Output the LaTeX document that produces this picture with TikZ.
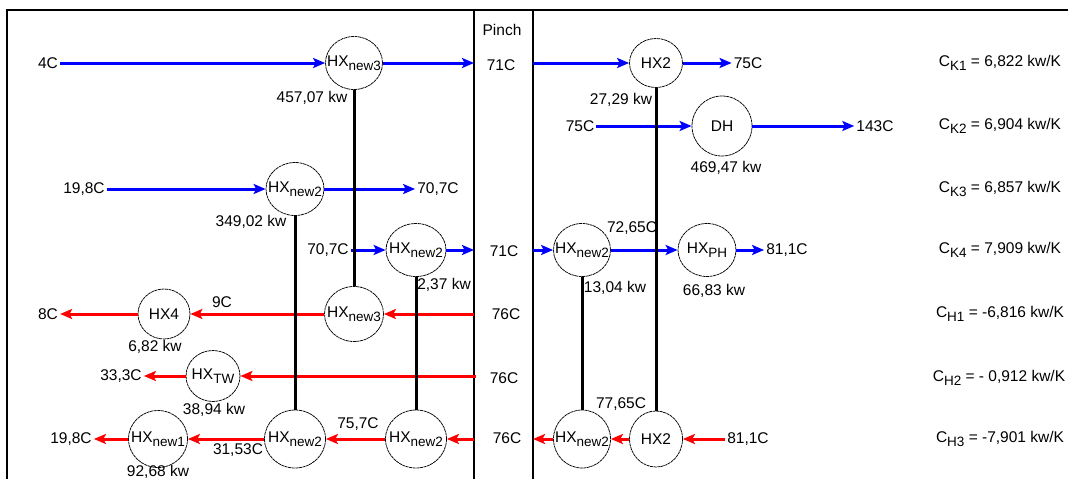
\documentclass[tikz,border=0pt]{standalone}
\usepackage{fontspec}
\setmainfont{Liberation Sans}
\usetikzlibrary{arrows.meta,shapes.geometric}
\newcommand\subx[1]{\raisebox{-3.5pt}{\fontsize{13.5}{13.5}\selectfont #1}}
\newcommand\hxt[1]{\makebox[0pt]{#1}}
\tikzset{
  hx/.style={ellipse,draw=black,line width=0.75pt,dash pattern=on 3pt off 0.6pt,inner sep=0pt,minimum width=57pt,minimum height=53pt},
  lbl/.style={inner sep=2pt},
  barrow/.style={draw=blue,line width=3pt,-{Stealth[length=12pt,width=10pt,inset=2.5pt]}},
  rarrow/.style={draw=red,line width=3pt,-{Stealth[length=12pt,width=10pt,inset=2.5pt]}},
  link/.style={draw=black,line width=3pt},
}
\begin{document}
\begin{tikzpicture}[x=1pt,y=-1pt,font=\fontsize{15.5}{18}\selectfont]
\useasboundingbox (0,0) rectangle (1068,479);
% frame and pinch
\draw[line width=1.5pt] (7,482) -- (7,10) -- (1070,10);
\draw[line width=2.5pt] (474,10) -- (474,482);
\draw[line width=2.5pt] (533,10) -- (533,482);
\node[lbl] (pinch) at (502,30) {Pinch};
% pinch coordinates
\coordinate (pL1) at (474,63);
\coordinate (pR1) at (533,63);
\coordinate (pL4) at (474,250);
\coordinate (pR4) at (533,250);
\coordinate (pL5) at (474,314);
\coordinate (pL6) at (476,376);
\coordinate (pL7) at (474,439);
\coordinate (pR7) at (533,439);
% exchangers
\node[hx] (a1) at (354,63) {\hxt{HX\subx{new3}}};
\node[hx,minimum width=53pt,minimum height=49pt] (hx2a) at (656,63) {\hxt{HX2}};
\node[hx,minimum width=60pt,minimum height=60pt] (dh) at (722,126) {\hxt{DH}};
\node[hx,minimum width=58pt] (b1) at (295,189) {\hxt{HX\subx{new2}}};
\node[hx,minimum width=60pt] (c1) at (416,250) {\hxt{HX\subx{new2}}};
\node[hx] (d1) at (582,250) {\hxt{HX\subx{new2}}};
\node[hx,minimum width=58pt] (ph) at (707,250) {\hxt{HX\subx{PH}}};
\node[hx,minimum width=52pt,minimum height=50pt] (hx4) at (164,314) {\hxt{HX4}};
\node[hx,minimum width=59pt,minimum height=55pt] (a2) at (354,314) {\hxt{HX\subx{new3}}};
\node[hx,minimum width=54pt,minimum height=51pt] (tw) at (213,376) {\hxt{HX\subx{TW}}};
\node[hx,minimum width=59pt,minimum height=57pt] (n1) at (158,439) {\hxt{HX\subx{new1}}};
\node[hx,minimum width=61pt,minimum height=58pt] (b2) at (295,439) {\hxt{HX\subx{new2}}};
\node[hx,minimum width=61pt,minimum height=58pt] (c2) at (416,439) {\hxt{HX\subx{new2}}};
\node[hx,minimum width=57pt,minimum height=58pt] (d2) at (582,439) {\hxt{HX\subx{new2}}};
\node[hx,minimum width=53pt,minimum height=56pt] (hx2b) at (656,439) {\hxt{HX2}};
% labels
\node[lbl] (t4C) at (48,63) {4C};
\node[lbl] (t71a) at (501,65) {71C};
\node[lbl] (t75a) at (748,63) {75C};
\node[lbl] (w457) at (312,98) {457,07 kw};
\node[lbl] (w2729) at (621,100) {27,29 kw};
\node[lbl] (t75b) at (580,126) {75C};
\node[lbl] (t143) at (875,126) {143C};
\node[lbl] (w469) at (726,168) {469,47 kw};
\node[lbl] (t198a) at (84,189) {19,8C};
\node[lbl] (t707a) at (438,189) {70,7C};
\node[lbl] (w349) at (251,222) {349,02 kw};
\node[lbl] (t707b) at (328,250) {70,7C};
\node[lbl] (t71b) at (504,251) {71C};
\node[lbl] (t7265) at (632,228) {72,65C};
\node[lbl] (t811a) at (787,250) {81,1C};
\node[lbl] (w237) at (444,285) {2,37 kw};
\node[lbl] (w1304) at (615,288) {13,04 kw};
\node[lbl] (w6683) at (714,291) {66,83 kw};
\node[lbl] (t8C) at (48,314) {8C};
\node[lbl] (t9C) at (222,302) {9C};
\node[lbl] (t76a) at (506,314) {76C};
\node[lbl] (w682) at (155,347) {6,82 kw};
\node[lbl] (t333) at (121,376) {33,3C};
\node[lbl] (t76b) at (504,378) {76C};
\node[lbl] (w3894) at (214,410) {38,94 kw};
\node[lbl] (t198b) at (71,439) {19,8C};
\node[lbl] (t757) at (358,424) {75,7C};
\node[lbl] (t3153) at (238,450) {31,53C};
\node[lbl] (w9268) at (158,472) {92,68 kw};
\node[lbl] (t76c) at (507,438) {76C};
\node[lbl] (t7765) at (621,404) {77,65C};
\node[lbl] (t811b) at (748,439) {81,1C};
% heat capacity flow rates
\node[lbl] (ck1) at (1000,63) {C\subx{K1} = 6,822 kw/K};
\node[lbl] (ck2) at (1000,126) {C\subx{K2} = 6,904 kw/K};
\node[lbl] (ck3) at (1000,189) {C\subx{K3} = 6,857 kw/K};
\node[lbl] (ck4) at (1000,250) {C\subx{K4} = 7,909 kw/K};
\node[lbl] (ch1) at (1000,314) {C\subx{H1} = -6,816 kw/K};
\node[lbl] (ch2) at (999,378) {C\subx{H2} = - 0,912 kw/K};
\node[lbl] (ch3) at (1000,439) {C\subx{H3} = -7,901 kw/K};
% cold streams (blue)
\draw[barrow] (t4C.east) -- (a1.west);
\draw[barrow] (a1.east) -- (pL1);
\draw[barrow] (pR1) -- (hx2a.west);
\draw[barrow] (hx2a.east) -- (t75a.west);
\draw[barrow] (t75b.east) -- (dh.west);
\draw[barrow] (dh.east) -- (t143.west);
\draw[barrow] (t198a.east) -- (b1.west);
\draw[barrow] (b1.east) -- (t707a.west);
\draw[barrow] (t707b.east) -- (c1.west);
\draw[barrow] (c1.east) -- (pL4);
\draw[barrow] (pR4) -- (d1.west);
\draw[barrow] (d1.east) -- (ph.west);
\draw[barrow] (ph.east) -- (t811a.west);
% hot streams (red)
\draw[rarrow] (pL5) -- (a2.east);
\draw[rarrow] (a2.west) -- (hx4.east);
\draw[rarrow] (hx4.west) -- (t8C.east);
\draw[rarrow] (pL6) -- (tw.east);
\draw[rarrow] (tw.west) -- (t333.east);
\draw[rarrow] (pL7) -- (c2.east);
\draw[rarrow] (c2.west) -- (b2.east);
\draw[rarrow] (b2.west) -- (n1.east);
\draw[rarrow] (n1.west) -- (t198b.east);
\draw[rarrow] (t811b.west) -- (hx2b.east);
\draw[rarrow] (hx2b.west) -- (d2.east);
\draw[rarrow] (d2.west) -- (pR7);
% matches
\draw[link] (a1.south) -- (a2.north);
\draw[link] (b1.south) -- (b2.north);
\draw[link] (c1.south) -- (c2.north);
\draw[link] (d1.south) -- (d2.north);
\draw[link] (hx2a.south) -- (hx2b.north);
\end{tikzpicture}
\end{document}
